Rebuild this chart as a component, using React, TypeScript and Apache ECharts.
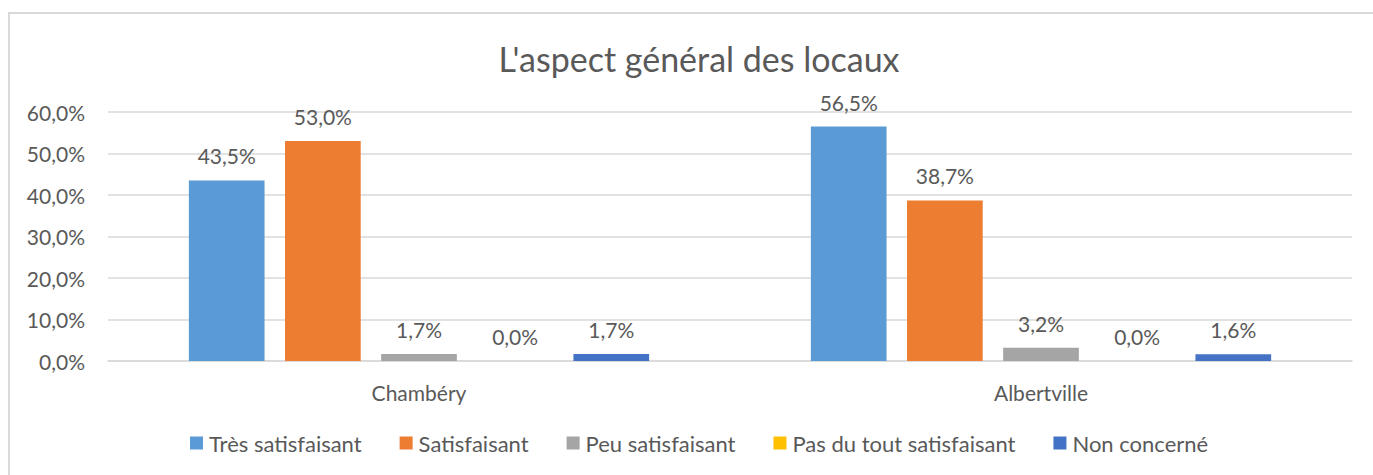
import React, { useEffect, useRef } from "react";
import * as echarts from "echarts";

const categories = ["Chambéry", "Albertville"];
const seriesNames = [
  "Très satisfaisant",
  "Satisfaisant",
  "Peu satisfaisant",
  "Pas du tout satisfaisant",
  "Non concerné",
];
const tresSatisfaisant = [43.5, 56.5];
const satisfaisant = [53.0, 38.7];
const peuSatisfaisant = [1.7, 3.2];
const pasDuToutSatisfaisant = [0.0, 0.0];
const nonConcerne = [1.7, 1.6];
const colors = ["#5B9BD5", "#ED7D31", "#A5A5A5", "#FFC000", "#4472C4"];
const yTicks = { min: 0, max: 60, interval: 10 };

const FONT = "Lato, 'Open Sans', sans-serif";
const TEXT = "#595959";
const fmt = (v: number) => v.toFixed(1).replace(".", ",") + "%";

export default function App() {
  const ref = useRef<HTMLDivElement>(null);
  useEffect(() => {
    if (!ref.current) return;
    const chart = echarts.init(ref.current, null, { renderer: "svg" });
    const data = [tresSatisfaisant, satisfaisant, peuSatisfaisant, pasDuToutSatisfaisant, nonConcerne];
    chart.setOption({
      animation: false,
      textStyle: { fontFamily: FONT },
      title: {
        text: "L'aspect général des locaux",
        left: 694,
        textAlign: "center",
        top: 36,
        textStyle: { fontFamily: FONT, fontSize: 34, fontWeight: "normal", color: TEXT },
      },
      graphic: [
        {
          type: "rect",
          shape: { x: 9, y: 13, width: 1400, height: 500 },
          style: { fill: "none", stroke: "#D9D9D9", lineWidth: 2 },
          silent: true,
        },
      ],
      legend: {
        bottom: 16,
        left: 185,
        itemWidth: 13,
        itemHeight: 13,
        itemGap: 38,
        icon: "rect",
        textStyle: { fontFamily: FONT, fontSize: 22, color: TEXT, padding: [0, 0, 0, 1] },
        data: seriesNames,
      },
      grid: { left: 108, right: 21, top: 112, bottom: 114, containLabel: false },
      xAxis: {
        type: "category",
        data: categories,
        axisLine: { lineStyle: { color: "#D9D9D9", width: 1.5 } },
        axisTick: { show: false },
        axisLabel: { fontFamily: FONT, fontSize: 21, color: TEXT, margin: 21 },
      },
      yAxis: {
        type: "value",
        min: yTicks.min,
        max: yTicks.max,
        interval: yTicks.interval,
        axisLine: { show: false },
        axisTick: { show: false },
        splitLine: { lineStyle: { color: "#D9D9D9", width: 1.5 } },
        axisLabel: { fontFamily: FONT, fontSize: 21, color: TEXT, margin: 23, formatter: fmt },
      },
      series: seriesNames.map((name, i) => ({
        name,
        type: "bar",
        data: data[i],
        barGap: "27%",
        barCategoryGap: "26%",
        itemStyle: { color: colors[i] },
        label: {
          show: true,
          position: "top",
          distance: 14,
          fontFamily: FONT,
          fontSize: 21,
          color: TEXT,
          formatter: (p: any) => fmt(p.value),
        },
      })),
    });
    return () => chart.dispose();
  }, []);
  return (
    <div
      ref={ref}
      style={{ position: "fixed", left: 0, top: 0, width: 1373, height: 475, background: "#fff" }}
    />
  );
}
